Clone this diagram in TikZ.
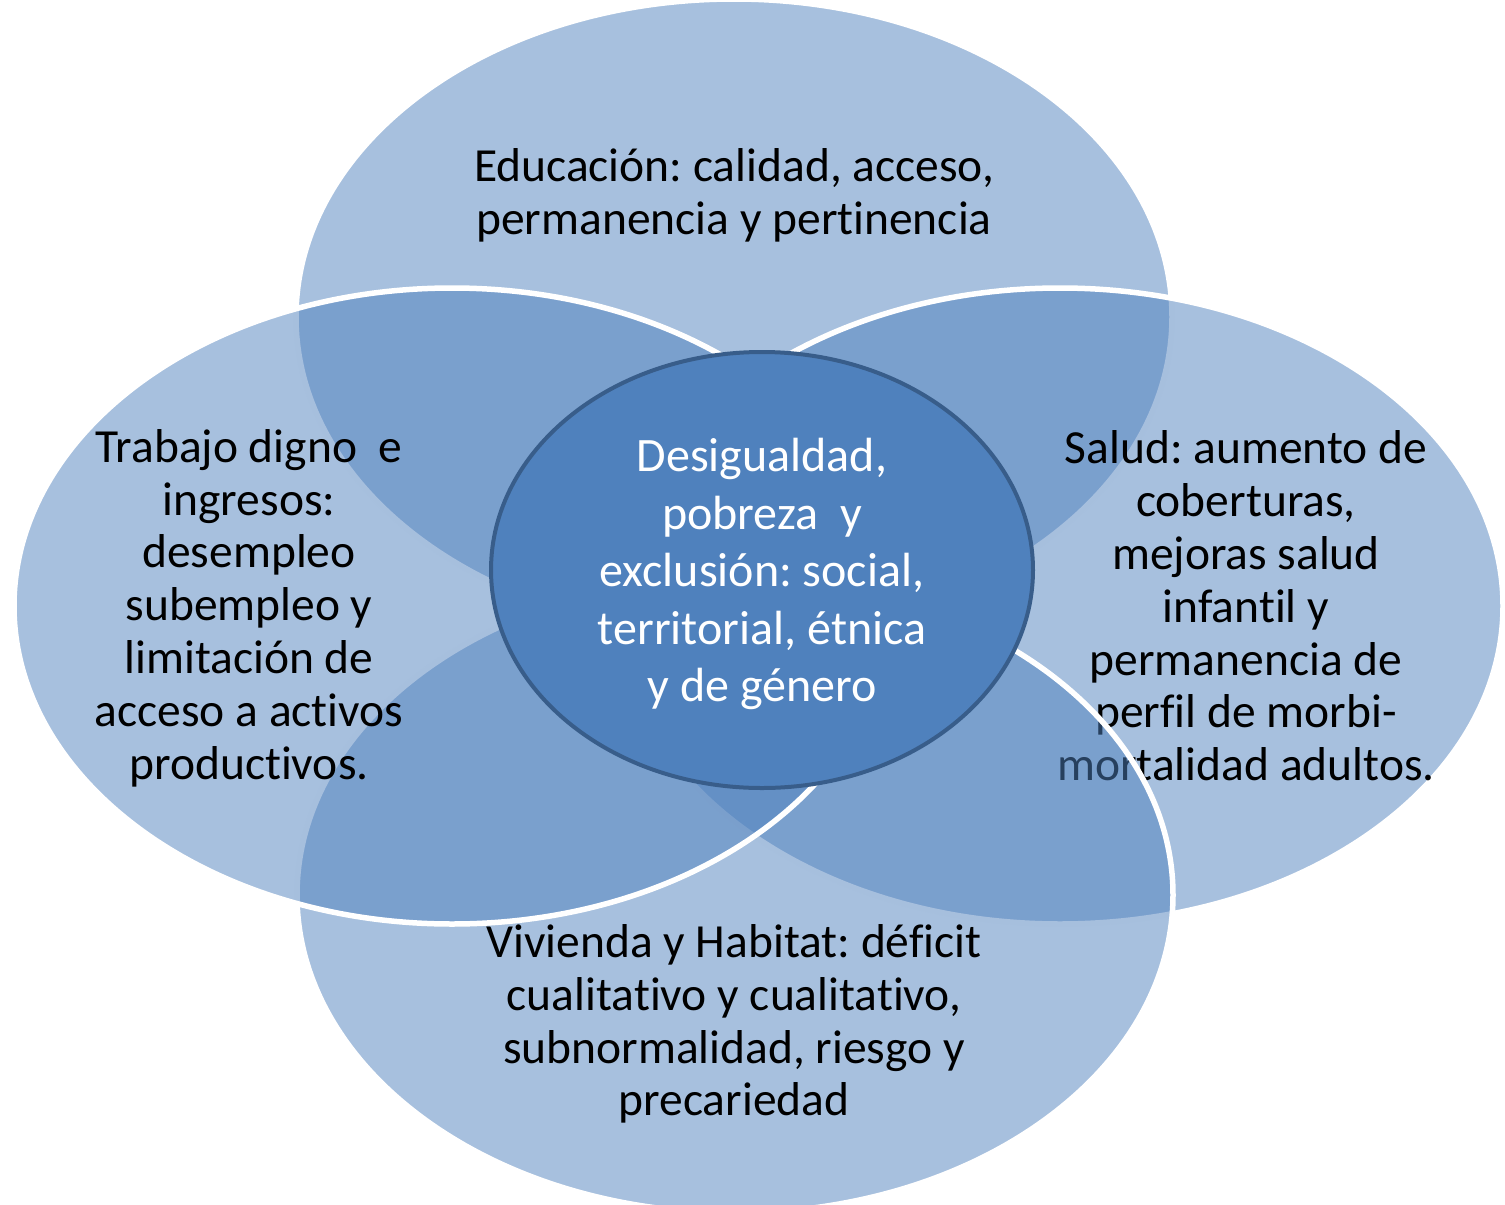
\documentclass[tikz,border=0pt]{standalone}
\usepackage{fontspec}
\setmainfont{Carlito}[Ligatures=NoCommon]
\usetikzlibrary{shapes.geometric}
\definecolor{petalblue}{HTML}{4F81BD}
\definecolor{coreedge}{HTML}{385D8A}
\frenchspacing

\begin{document}
\begin{tikzpicture}[x=1pt, y=-1pt]
	\tikzstyle{Petal} = [ellipse, draw=white, line width=5.5pt, fill=petalblue, fill opacity=0.5, inner sep=0pt, minimum width=876pt, minimum height=636pt]
	\tikzstyle{Core} = [ellipse, draw=coreedge, line width=4pt, fill=petalblue, inner sep=0pt, minimum width=542pt, minimum height=436pt]
	\tikzstyle{PetalText} = [align=center, inner sep=0pt, font=\fontsize{47.5}{52.8}\selectfont, text=black]
	\tikzstyle{CoreText} = [align=center, inner sep=0pt, font=\fontsize{48}{57.5}\selectfont, text=white]
	
	\useasboundingbox (0,0) rectangle (1505,1205);
	\clip (0,0) rectangle (1505,1205);
	
	% top
	\node (edu) [Petal] at (734,317) {};
	\node (eduText) [PetalText] at (734,195) {Educación: calidad, acceso,\\permanencia y pertinencia};
	
	% right
	\node (salud) [Petal, minimum width=886pt] at (1060,606) {};
	\node (saludText) [PetalText] at (1246,606) {Salud: aumento de\\coberturas,\\mejoras salud\\infantil y\\permanencia de\\perfil de morbi-\\mortalidad adultos.};
	
	% bottom
	\node (vivienda) [Petal] at (735,895) {};
	\node (viviendaText) [PetalText] at (734,1024) {Vivienda y Habitat: déficit\\cualitativo y cualitativo,\\subnormalidad, riesgo y\\precariedad};
	
	% left
	\node (trabajo) [Petal] at (452,606) {};
	\node (trabajoText) [PetalText] at (249,608) {Trabajo digno\ \ e\\ingresos:\\desempleo\\subempleo y\\limitación de\\acceso a activos\\productivos.};
	
	% centre
	\node (desigualdad) [Core] at (762,570) {};
	\node (desigualdadText) [CoreText] at (762,574) {Desigualdad,\\pobreza\ \ y\\exclusión: social,\\territorial, étnica\\y de género};
\end{tikzpicture}
\end{document}
